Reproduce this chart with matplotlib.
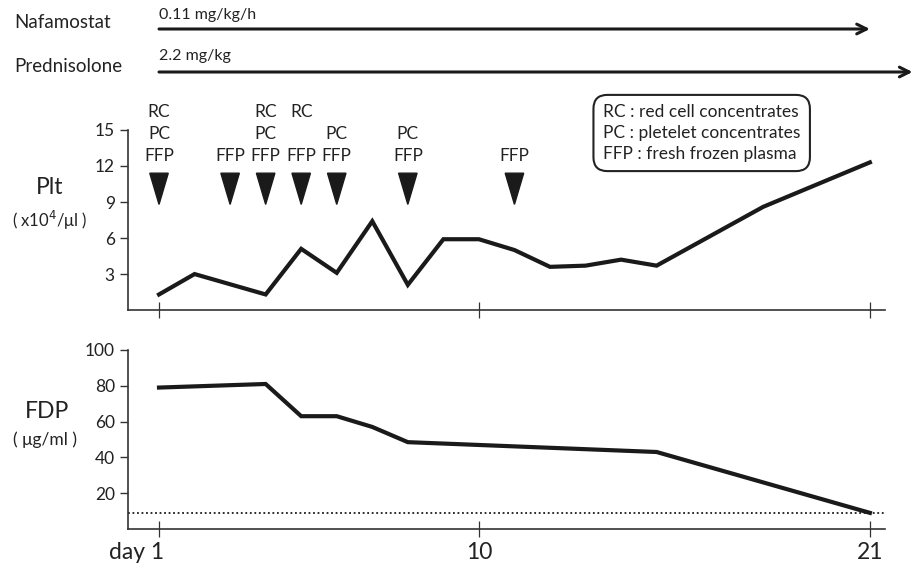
import matplotlib.pyplot as plt
import matplotlib.transforms as mtransforms

plt.rcParams['font.family'] = ['Lato', 'DejaVu Sans']

# platelet count (x10^4/ul)
plt_days = [1, 2, 4, 5, 6, 7, 8, 9, 10, 11, 12, 13, 14, 15, 18, 21]
plt_vals = [1.3, 3.0, 1.3, 5.1, 3.1, 7.4, 2.1, 5.9, 5.9, 5.0, 3.6, 3.7, 4.2, 3.7, 8.6, 12.3]

# FDP (ug/ml)
fdp_days = [1, 4, 5, 6, 7, 8, 15, 21]
fdp_vals = [79, 81, 63, 63, 57, 48.5, 43, 9]
fdp_ref = 9

# transfusions
rc_days = [1, 4, 5]
pc_days = [1, 4, 6, 8]
ffp_days = [1, 3, 4, 5, 6, 8, 11]

x_ticks = [1, 10, 21]
x_labels = ['day 1', '10', '21']

line_col = '#1a1a1a'
ax_col = '#333333'
txt_col = '#222222'

fig = plt.figure(figsize=(9.15, 5.7), dpi=100)
ax1 = fig.add_axes([0.140, 0.456, 0.827, 0.316])
ax2 = fig.add_axes([0.140, 0.072, 0.827, 0.314])

for ax in (ax1, ax2):
    ax.set_xlim(0.13, 21.42)
    for s in ('top', 'right'):
        ax.spines[s].set_visible(False)
    for s in ('left', 'bottom'):
        ax.spines[s].set_color(ax_col)
        ax.spines[s].set_linewidth(1.2)
    ax.set_xticks(x_ticks)
    ax.tick_params(axis='x', direction='inout', length=11, width=0.9, color=ax_col)
    ax.tick_params(axis='y', direction='out', length=6, width=1.0, color=ax_col,
                   labelsize=12.5, labelcolor=txt_col)

# Plt panel
ax1.plot(plt_days, plt_vals, color=line_col, lw=3.0, solid_joinstyle='miter')
ax1.set_ylim(0, 15)
ax1.set_yticks([3, 6, 9, 12, 15])
ax1.set_xticklabels([])

for d in ffp_days:
    ax1.fill([d - 0.26, d + 0.26, d], [11.4, 11.4, 8.8], color=line_col, clip_on=False)
    ax1.text(d, 12.8, 'FFP', ha='center', va='center', fontsize=12.5, color=txt_col)
for d in pc_days:
    ax1.text(d, 14.65, 'PC', ha='center', va='center', fontsize=12.5, color=txt_col)
for d in rc_days:
    ax1.text(d, 16.5, 'RC', ha='center', va='center', fontsize=12.5, color=txt_col)

fig.text(50 / 915, 1 - 187 / 570, 'Plt', ha='center', va='center', fontsize=16.5, color=txt_col)
fig.text(50 / 915, 1 - 220 / 570, '( x10$^4$/\u03bcl )', ha='center', va='center',
         fontsize=12, color=txt_col)

fig.text(603 / 915, 1 - 133 / 570,
         'RC : red cell concentrates\nPC : pletelet concentrates\nFFP : fresh frozen plasma',
         ha='left', va='center', fontsize=12.5, color=txt_col, linespacing=1.35,
         bbox=dict(boxstyle='round,pad=0.55,rounding_size=0.8', fc='white',
                   ec=txt_col, lw=1.5))

# FDP panel
ax2.plot(fdp_days, fdp_vals, color=line_col, lw=3.0, solid_joinstyle='miter')
ax2.axhline(fdp_ref, color=line_col, lw=1.3, ls=(0, (1, 1.5)))
ax2.set_ylim(0, 100)
ax2.set_yticks([20, 40, 60, 80, 100])
ax2.set_xticklabels(x_labels, fontsize=16.5, color=txt_col)
ax2.tick_params(axis='x', pad=4)
first = ax2.get_xticklabels()[0]
first.set_horizontalalignment('right')
first.set_transform(first.get_transform() + mtransforms.ScaledTranslation(5 / 100, 0, fig.dpi_scale_trans))

fig.text(47 / 915, 1 - 412 / 570, 'FDP', ha='center', va='center', fontsize=16.5, color=txt_col)
fig.text(45 / 915, 1 - 440 / 570, '( \u03bcg/ml )', ha='center', va='center',
         fontsize=12.5, color=txt_col)

# drug arrows
blend = mtransforms.blended_transform_factory(ax1.transData, fig.transFigure)
fig.text(14 / 915, 1 - 23 / 570, 'Nafamostat', ha='left', va='center', fontsize=13.5, color=txt_col)
fig.text(14 / 915, 1 - 66 / 570, 'Prednisolone', ha='left', va='center', fontsize=13.5, color=txt_col)
arrow = dict(arrowstyle='->,head_length=0.7,head_width=0.35', lw=2.2,
             color=line_col, shrinkA=0, shrinkB=0)
ax1.annotate('', xy=(21, 1 - 29 / 570), xytext=(1, 1 - 29 / 570),
             xycoords=('data', 'figure fraction'), textcoords=('data', 'figure fraction'),
             arrowprops=arrow)
ax1.annotate('', xy=(22.2, 1 - 72 / 570), xytext=(1, 1 - 72 / 570),
             xycoords=('data', 'figure fraction'), textcoords=('data', 'figure fraction'),
             arrowprops=arrow)
ax1.text(1, 1 - 15 / 570, '0.11 mg/kg/h', transform=blend,
         ha='left', va='center', fontsize=11.5, color=txt_col)
ax1.text(1, 1 - 56 / 570, '2.2 mg/kg', transform=blend,
         ha='left', va='center', fontsize=11.5, color=txt_col)

fig.savefig('out.png', dpi=100)
